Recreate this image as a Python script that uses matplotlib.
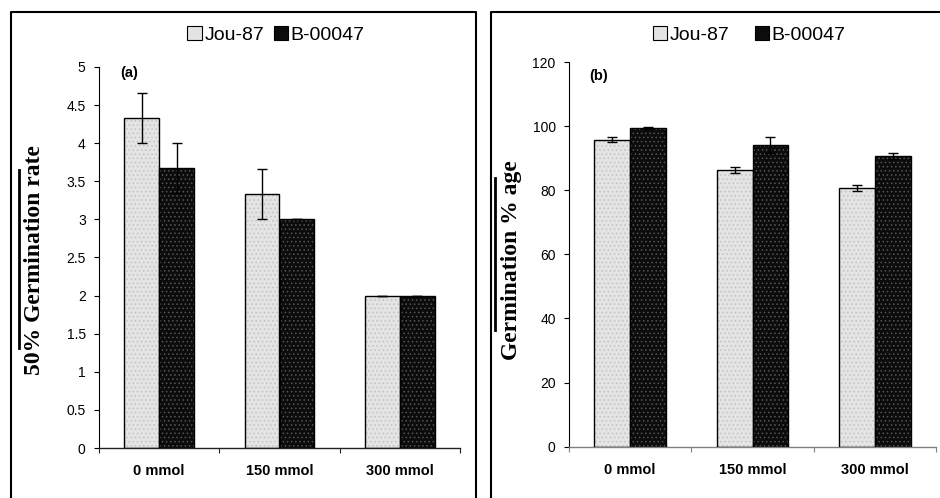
import matplotlib
matplotlib.use("Agg")
import matplotlib.pyplot as plt
from matplotlib.lines import Line2D
from matplotlib.patches import Patch
import numpy as np

categories = ["0 mmol", "150 mmol", "300 mmol"]
series = ["Jou-87", "B-00047"]

rate_jou = [4.33, 3.33, 2.0]
rate_b = [3.67, 3.0, 2.0]
rate_jou_err = [0.33, 0.33, 0.0]
rate_b_err = [0.33, 0.0, 0.0]

germ_jou = [95.7, 86.4, 80.7]
germ_b = [99.4, 94.2, 90.6]
germ_jou_err = [0.8, 1.0, 1.0]
germ_b_err = [0.3, 2.5, 0.9]

left_ticks = [0, 0.5, 1, 1.5, 2, 2.5, 3, 3.5, 4, 4.5, 5]
left_ticklabels = ["0", "0.5", "1", "1.5", "2", "2.5", "3", "3.5", "4", "4.5", "5"]
right_ticks = [0, 20, 40, 60, 80, 100, 120]
right_ticklabels = ["0", "20", "40", "60", "80", "100", "120"]

plt.rcParams['font.family'] = ['Liberation Sans', 'DejaVu Sans']
plt.rcParams['hatch.linewidth'] = 0.6

W, H = 940, 498
fig = plt.figure(figsize=(9.4, 4.98), dpi=100)

def fx(px):
    return px / W

def fy(py):
    return 1 - py / H

ax1 = fig.add_axes([fx(99), fy(448), fx(460) - fx(99), fy(67) - fy(448)])
ax2 = fig.add_axes([fx(569), fy(446.7), fx(936) - fx(569), fy(62) - fy(446.7)])

JOU_FC = "#e4e4e4"
B_FC = "#0c0c0c"

def draw(ax, jou, b, jerr, berr, width, ticks, ticklabels, ylim, xspine_color):
    x = np.arange(len(categories))
    xj = x - width / 2
    xb = x + width / 2
    # fills with dotted texture
    ax.bar(xj, jou, width, color=JOU_FC, edgecolor="#c2c2c2", hatch="....", linewidth=0, zorder=2)
    ax.bar(xb, b, width, color=B_FC, edgecolor="#555555", hatch="....", linewidth=0, zorder=2)
    # outlines
    ax.bar(xj, jou, width, fill=False, edgecolor="black", linewidth=1.0, zorder=3)
    ax.bar(xb, b, width, fill=False, edgecolor="black", linewidth=1.0, zorder=3)
    ax.errorbar(xj, jou, yerr=jerr, fmt="none", ecolor="black", elinewidth=1.0,
                capsize=3.3, capthick=1.0, zorder=4)
    ax.errorbar(xb, b, yerr=berr, fmt="none", ecolor="black", elinewidth=1.0,
                capsize=3.3, capthick=1.0, zorder=4)
    ax.set_xlim(-0.5, len(categories) - 0.5)
    ax.set_ylim(*ylim)
    ax.set_yticks(ticks)
    ax.set_yticklabels(ticklabels)
    ax.tick_params(axis="y", direction="out", length=3.6, width=0.8, pad=6.0,
                   labelsize=10, colors="black")
    ax.set_xticks(np.arange(len(categories) + 1) - 0.5)
    ax.set_xticklabels([])
    ax.tick_params(axis="x", which="major", direction="out", length=3.6, width=0.8,
                   color=xspine_color)
    ax.set_xticks(x, minor=True)
    ax.set_xticklabels(categories, minor=True, fontweight="bold", fontsize=10.5)
    ax.tick_params(axis="x", which="minor", length=0, pad=11.5)
    for s in ("top", "right"):
        ax.spines[s].set_visible(False)
    ax.spines["left"].set_linewidth(0.8)
    ax.spines["bottom"].set_linewidth(1.0)
    ax.spines["bottom"].set_color(xspine_color)
    ax.set_facecolor("none")

draw(ax1, rate_jou, rate_b, rate_jou_err, rate_b_err, 0.29,
     left_ticks, left_ticklabels, (0, 5), "#222222")
draw(ax2, germ_jou, germ_b, germ_jou_err, germ_b_err, 0.294,
     right_ticks, right_ticklabels, (0, 120), "#808080")

ax1.text(0.058, 0.984, "(a)", transform=ax1.transAxes, fontsize=10.5,
         fontweight="bold", ha="left", va="center")
ax2.text(0.054, 0.964, "(b)", transform=ax2.transAxes, fontsize=10.5,
         fontweight="bold", ha="left", va="center")

handles = [Patch(facecolor=JOU_FC, edgecolor="black", linewidth=0.8),
           Patch(facecolor=B_FC, edgecolor="black", linewidth=0.8)]
fig.legend(handles, series, loc="center", bbox_to_anchor=(fx(276), fy(35)),
           ncol=2, frameon=False, fontsize=14, handlelength=0.75, handleheight=0.75,
           handletextpad=0.12, columnspacing=0.5, borderpad=0, borderaxespad=0)
fig.legend(handles, series, loc="center", bbox_to_anchor=(fx(749), fy(35)),
           ncol=2, frameon=False, fontsize=14, handlelength=0.75, handleheight=0.75,
           handletextpad=0.12, columnspacing=1.3, borderpad=0, borderaxespad=0)

fig.text(fx(35), fy(260), "50% Germination rate", rotation=90, ha="center", va="center",
         family=["Liberation Serif", "DejaVu Serif"], fontweight="bold", fontsize=17)
fig.text(fx(512), fy(260), "Germination % age", rotation=90, ha="center", va="center",
         family=["Liberation Serif", "DejaVu Serif"], fontweight="bold", fontsize=17)

# overlines beside the axis titles
fig.add_artist(Line2D([fx(19), fx(19)], [fy(170), fy(348)], lw=2, color="black",
                      transform=fig.transFigure))
fig.add_artist(Line2D([fx(495), fx(495)], [fy(178), fy(330)], lw=2, color="black",
                      transform=fig.transFigure))

# panel borders
border = dict(lw=1.5, color="black", transform=fig.transFigure)
fig.add_artist(Line2D([fx(11), fx(11), fx(476), fx(476)], [0, fy(12), fy(12), 0], **border))
fig.add_artist(Line2D([fx(491), fx(491), 1.0], [0, fy(12), fy(12)], **border))

fig.savefig("out.png", dpi=100)
